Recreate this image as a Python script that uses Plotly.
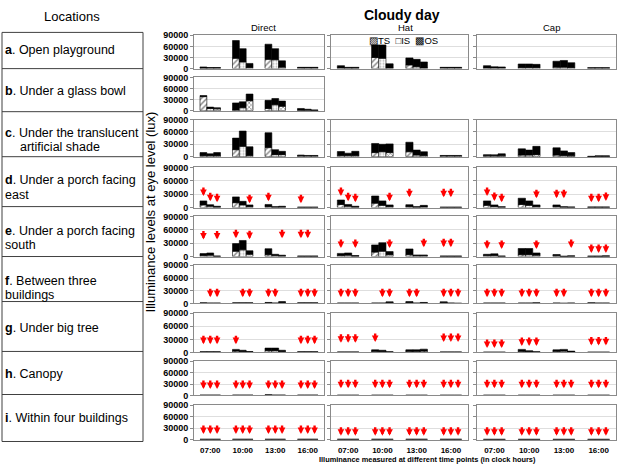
import plotly.graph_objects as go

W, H = 620, 469

TIMES = ["07:00", "10:00", "13:00", "16:00"]
SERIES = ["TS", "IS", "OS"]
COLUMNS = ["Direct", "Hat", "Cap"]
LOCATIONS = [
    ("a", ["Open playground"]),
    ("b", ["Under a glass bowl"]),
    ("c", ["Under the translucent", "artificial shade"]),
    ("d", ["Under a porch facing", "east"]),
    ("e", ["Under a porch facing", "south"]),
    ("f", ["Between three", "buildings"]),
    ("g", ["Under big tree"]),
    ("h", ["Canopy"]),
    ("i", ["Within four buildings"]),
]
Y_TICKS = [0, 30000, 60000, 90000]

# Values per time point: [TS, IS, OS]  (TOT = bar total, PAT = patterned lower part)
A_DIRECT_TOT = [[4500, 3000, 3000], [76000, 54000, 14000], [66000, 54000, 21000], [3500, 3500, 3500]]
A_DIRECT_PAT = [[1500, 1500, 1500], [28000, 18000, 3000], [25000, 24000, 4000], [2000, 2000, 2000]]
A_HAT_TOT = [[8000, 3500, 3500], [64000, 64000, 13000], [29000, 25000, 18000], [3500, 3500, 3500]]
A_HAT_PAT = [[2000, 1500, 1500], [30000, 28000, 2000], [10000, 5000, 2000], [2000, 2000, 2000]]
A_CAP_TOT = [[8000, 5000, 4500], [12500, 12500, 11500], [20000, 22000, 16000], [2500, 2500, 2500]]
A_CAP_PAT = [[2000, 2000, 2000], [3000, 3000, 3000], [4000, 4000, 3000], [1500, 1500, 1500]]

B_DIRECT_TOT = [[41000, 9700, 8000], [21000, 24000, 45000], [28000, 33000, 26000], [6000, 4000, 2000]]
B_DIRECT_PAT = [[38000, 6000, 5000], [2000, 8000, 27000], [6000, 16000, 12000], [1500, 1500, 1000]]

C_DIRECT_TOT = [[10000, 7000, 10000], [45000, 62000, 24000], [58000, 17000, 13000], [4000, 3000, 3000]]
C_DIRECT_PAT = [[2500, 2500, 2500], [17000, 25000, 3000], [22000, 5000, 5000], [2000, 2000, 2000]]
C_HAT_TOT = [[12500, 8500, 13000], [32000, 30000, 31000], [35000, 16000, 12000], [3000, 3000, 3000]]
C_HAT_PAT = [[3000, 3000, 3000], [10000, 12000, 10000], [12000, 4000, 3000], [2000, 2000, 2000]]
C_CAP_TOT = [[5000, 4500, 7000], [19000, 16000, 25000], [21500, 14000, 10000], [1000, 2000, 2000]]
C_CAP_PAT = [[2000, 2000, 2000], [4000, 4000, 5000], [4000, 3000, 2000], [500, 1000, 1000]]

D_DIRECT_TOT = [[15000, 6500, 3000], [24000, 14000, 6000], [7000, 2000, 3000], [1000, 1000, 1000]]
D_DIRECT_PAT = [[6000, 3000, 1000], [11000, 6000, 2000], [2000, 1000, 1000], [500, 500, 500]]
D_HAT_TOT = [[17000, 7000, 3000], [26000, 15000, 6000], [6500, 2000, 5000], [1000, 1000, 1000]]
D_HAT_PAT = [[7000, 3000, 1000], [10000, 5000, 2000], [2000, 1000, 1500], [500, 500, 500]]
D_CAP_TOT = [[15000, 6000, 2000], [21000, 15000, 6000], [6000, 2000, 1500], [1500, 1500, 1500]]
D_CAP_PAT = [[5000, 2500, 800], [7000, 5000, 2000], [2000, 800, 600], [600, 600, 600]]

E_DIRECT_TOT = [[6500, 8000, 1000], [29000, 36000, 13000], [17500, 5000, 3000], [1000, 1000, 1000]]
E_DIRECT_PAT = [[2500, 3000, 500], [12000, 15000, 5000], [4000, 2000, 1000], [500, 500, 500]]
E_HAT_TOT = [[7000, 8000, 2000], [26000, 31000, 11000], [17000, 3500, 3500], [1000, 1000, 1000]]
E_HAT_PAT = [[2500, 3000, 800], [10000, 12000, 4000], [4000, 1500, 1500], [500, 500, 500]]
E_CAP_TOT = [[5000, 6000, 1000], [18000, 18000, 8000], [4500, 500, 1500], [1000, 1000, 1500]]
E_CAP_PAT = [[2000, 2000, 500], [4000, 4000, 3000], [1500, 300, 600], [400, 400, 600]]

F_DIRECT_TOT = [[1500, 1000, 1000], [1500, 1500, 1500], [2500, 1000, 4500], [1500, 1500, 1500]]
F_DIRECT_PAT = [[700, 500, 500], [700, 700, 700], [1000, 500, 2000], [700, 700, 700]]
F_HAT_TOT = [[1000, 1000, 1000], [1000, 1000, 4000], [4500, 1000, 2500], [4000, 1000, 500]]
F_HAT_PAT = [[500, 500, 500], [500, 500, 1500], [2000, 500, 1000], [1500, 500, 300]]
F_CAP_TOT = [[1000, 1000, 1000], [1000, 1000, 1500], [1000, 500, 1000], [1500, 1000, 1000]]
F_CAP_PAT = [[500, 500, 500], [500, 500, 700], [500, 300, 500], [700, 500, 500]]

G_DIRECT_TOT = [[1500, 1500, 1500], [7000, 5000, 2000], [10000, 10000, 5000], [1500, 1500, 1500]]
G_DIRECT_PAT = [[700, 700, 700], [3000, 2000, 800], [4000, 4000, 2000], [700, 700, 700]]
G_HAT_TOT = [[1000, 1000, 1000], [6000, 5000, 1500], [6000, 6000, 7500], [1000, 1000, 1000]]
G_HAT_PAT = [[500, 500, 500], [2500, 2000, 700], [2500, 2500, 3000], [500, 500, 500]]
G_CAP_TOT = [[500, 500, 500], [7000, 4000, 1500], [6000, 7000, 3000], [500, 500, 500]]
G_CAP_PAT = [[300, 300, 300], [2500, 1500, 700], [2500, 3000, 1200], [300, 300, 300]]

H_DIRECT_TOT = [[1000, 1000, 1000], [1000, 1000, 1000], [2000, 1000, 1000], [1000, 1000, 1000]]
H_DIRECT_PAT = [[500, 500, 500], [500, 500, 500], [800, 500, 500], [500, 500, 500]]
H_HAT_TOT = [[800, 800, 800], [800, 800, 800], [800, 800, 800], [800, 800, 800]]
H_HAT_PAT = [[400, 400, 400], [400, 400, 400], [400, 400, 400], [400, 400, 400]]
H_CAP_TOT = [[800, 800, 800], [800, 800, 800], [800, 800, 800], [800, 800, 800]]
H_CAP_PAT = [[400, 400, 400], [400, 400, 400], [400, 400, 400], [400, 400, 400]]

I_DIRECT_TOT = [[800, 800, 800], [800, 800, 800], [800, 800, 800], [800, 800, 800]]
I_DIRECT_PAT = [[400, 400, 400], [400, 400, 400], [400, 400, 400], [400, 400, 400]]
I_HAT_TOT = [[800, 800, 800], [800, 800, 800], [800, 800, 800], [800, 800, 800]]
I_HAT_PAT = [[400, 400, 400], [400, 400, 400], [400, 400, 400], [400, 400, 400]]
I_CAP_TOT = [[600, 600, 600], [600, 600, 600], [600, 600, 600], [600, 600, 600]]
I_CAP_PAT = [[300, 300, 300], [300, 300, 300], [300, 300, 300], [300, 300, 300]]

# Red arrows: (time index, series index, arrow tip value in lux)
D_DIRECT_ARROWS = [(0, 0, 26000), (0, 1, 14000), (0, 2, 12000), (1, 2, 10000), (2, 0, 14000), (3, 0, 10000)]
D_HAT_ARROWS = [(0, 0, 26000), (0, 1, 14000), (0, 2, 12000), (1, 2, 14000), (2, 0, 23000), (3, 0, 23000), (3, 1, 23000)]
D_CAP_ARROWS = [(0, 0, 26000), (0, 1, 15000), (0, 2, 12000), (1, 2, 21000), (2, 0, 21000), (2, 1, 21000),
                (3, 0, 12000), (3, 1, 12000), (3, 2, 15000)]
E_DIRECT_ARROWS = [(0, 0, 38000), (0, 2, 38000), (1, 0, 41000), (1, 2, 39000), (2, 2, 41000), (3, 0, 41000), (3, 1, 41000)]
E_HAT_ARROWS = [(0, 0, 19000), (0, 2, 19000), (1, 2, 19000), (2, 2, 21000), (3, 0, 21000), (3, 1, 21000)]
E_CAP_ARROWS = [(0, 0, 17000), (0, 2, 17000), (1, 2, 17000), (2, 2, 19000), (3, 0, 8000), (3, 1, 8000), (3, 2, 8000)]
F_DIRECT_ARROWS = [(0, 1, 15000), (0, 2, 15000), (1, 1, 15000), (1, 2, 15000), (2, 0, 15000), (2, 1, 15000),
                   (3, 0, 15000), (3, 1, 15000), (3, 2, 15000)]
F_HAT_ARROWS = [(0, 0, 15000), (0, 1, 15000), (0, 2, 15000), (1, 1, 15000), (1, 2, 15000), (2, 0, 15000),
                (2, 1, 15000), (3, 0, 15000), (3, 1, 15000), (3, 2, 15000)]
F_CAP_ARROWS = [(0, 0, 15000), (0, 1, 15000), (0, 2, 15000), (1, 0, 15000), (1, 1, 15000), (1, 2, 15000),
                (2, 0, 15000), (2, 1, 15000), (3, 0, 15000), (3, 1, 15000), (3, 2, 15000)]
G_DIRECT_ARROWS = [(0, 0, 19000), (0, 1, 19000), (0, 2, 19000), (1, 0, 19000), (3, 0, 19000), (3, 1, 19000), (3, 2, 19000)]
G_HAT_ARROWS = [(0, 0, 22000), (0, 1, 22000), (0, 2, 22000), (1, 0, 24000), (3, 0, 24000), (3, 1, 24000), (3, 2, 24000)]
G_CAP_ARROWS = [(0, 0, 10000), (0, 1, 10000), (0, 2, 10000), (1, 0, 15000), (1, 1, 15000), (1, 2, 15000),
                (3, 0, 16000), (3, 1, 16000), (3, 2, 16000)]
H_DIRECT_ARROWS = [(t, s, 17000) for t in range(4) for s in range(3)]
H_HAT_ARROWS = [(t, s, 19000) for t in range(4) for s in range(3)]
H_CAP_ARROWS = [(t, s, 19000) for t in range(4) for s in range(3)]
I_DIRECT_ARROWS = [(t, s, 14500) for t in range(4) for s in range(3)]
I_HAT_ARROWS = [(t, s, 10000) for t in range(4) for s in range(3)]
I_CAP_ARROWS = [(t, s, 10000) for t in range(4) for s in range(3)]

PANELS = {
    (0, 0): (A_DIRECT_TOT, A_DIRECT_PAT, []), (0, 1): (A_HAT_TOT, A_HAT_PAT, []), (0, 2): (A_CAP_TOT, A_CAP_PAT, []),
    (1, 0): (B_DIRECT_TOT, B_DIRECT_PAT, []),
    (2, 0): (C_DIRECT_TOT, C_DIRECT_PAT, []), (2, 1): (C_HAT_TOT, C_HAT_PAT, []), (2, 2): (C_CAP_TOT, C_CAP_PAT, []),
    (3, 0): (D_DIRECT_TOT, D_DIRECT_PAT, D_DIRECT_ARROWS), (3, 1): (D_HAT_TOT, D_HAT_PAT, D_HAT_ARROWS),
    (3, 2): (D_CAP_TOT, D_CAP_PAT, D_CAP_ARROWS),
    (4, 0): (E_DIRECT_TOT, E_DIRECT_PAT, E_DIRECT_ARROWS), (4, 1): (E_HAT_TOT, E_HAT_PAT, E_HAT_ARROWS),
    (4, 2): (E_CAP_TOT, E_CAP_PAT, E_CAP_ARROWS),
    (5, 0): (F_DIRECT_TOT, F_DIRECT_PAT, F_DIRECT_ARROWS), (5, 1): (F_HAT_TOT, F_HAT_PAT, F_HAT_ARROWS),
    (5, 2): (F_CAP_TOT, F_CAP_PAT, F_CAP_ARROWS),
    (6, 0): (G_DIRECT_TOT, G_DIRECT_PAT, G_DIRECT_ARROWS), (6, 1): (G_HAT_TOT, G_HAT_PAT, G_HAT_ARROWS),
    (6, 2): (G_CAP_TOT, G_CAP_PAT, G_CAP_ARROWS),
    (7, 0): (H_DIRECT_TOT, H_DIRECT_PAT, H_DIRECT_ARROWS), (7, 1): (H_HAT_TOT, H_HAT_PAT, H_HAT_ARROWS),
    (7, 2): (H_CAP_TOT, H_CAP_PAT, H_CAP_ARROWS),
    (8, 0): (I_DIRECT_TOT, I_DIRECT_PAT, I_DIRECT_ARROWS), (8, 1): (I_HAT_TOT, I_HAT_PAT, I_HAT_ARROWS),
    (8, 2): (I_CAP_TOT, I_CAP_PAT, I_CAP_ARROWS),
}

# ---------------- layout geometry (pixels) ----------------
COL_PX = [(194, 324), (331, 468), (477, 616)]
ROW_PX = [(31, 65), (74, 108), (117, 155), (166, 207), (216, 257), (266, 305), (315, 355), (364, 399), (409, 444)]
TABLE_X = (2, 143)
TABLE_LINES = [28, 65, 109, 155, 206, 257, 303, 354, 398, 446]

BARGAP = 0.37
PATTERNS = {
    "TS": dict(shape="/", fgcolor="#000000", bgcolor="#ffffff", size=4, solidity=0.35),
    "IS": dict(shape=".", fgcolor="#707070", bgcolor="#ffffff", size=3, solidity=0.35),
    "OS": dict(shape="x", fgcolor="#000000", bgcolor="#ffffff", size=3, solidity=0.4),
}
FONT = "Arial, Liberation Sans, sans-serif"

def px_x(v):
    return v / W

def px_y(v):
    return 1 - v / H

fig = go.Figure()
annotations = []
shapes = []
n = 0
for (r, c), (tot, pat, arrows) in PANELS.items():
    n += 1
    xa = "x" if n == 1 else f"x{n}"
    ya = "y" if n == 1 else f"y{n}"
    for s, name in enumerate(SERIES):
        low = [pat[t][s] for t in range(len(TIMES))]
        top = [tot[t][s] - pat[t][s] for t in range(len(TIMES))]
        fig.add_trace(go.Bar(
            x=TIMES, y=low, offsetgroup=name, name=name, showlegend=False,
            marker=dict(color="#ffffff", pattern=PATTERNS[name], line=dict(color="#000000", width=0.6)),
            xaxis=xa, yaxis=ya, hoverinfo="skip"))
        fig.add_trace(go.Bar(
            x=TIMES, y=top, base=low, offsetgroup=name, name=name, showlegend=False,
            marker=dict(color="#000000", line=dict(color="#000000", width=0.6)),
            xaxis=xa, yaxis=ya, hoverinfo="skip"))
    w = (1 - BARGAP) / len(SERIES)
    for (t, s, tip) in arrows:
        annotations.append(dict(
            xref=xa, yref=ya, x=t + (s - 1) * w, y=tip, text="", showarrow=True,
            ax=0, ay=-10, arrowhead=2, arrowsize=0.55, arrowwidth=2.4, arrowcolor="#ff0000",
            standoff=0, startstandoff=0))
    x0, x1 = COL_PX[c]
    y0, y1 = ROW_PX[r]
    last = (r == len(ROW_PX) - 1)
    fig.layout[("xaxis" if n == 1 else f"xaxis{n}")] = dict(
        domain=[px_x(x0), px_x(x1)], anchor=ya, type="category",
        categoryorder="array", categoryarray=TIMES,
        showline=True, mirror=True, linecolor="#8a8a8a", linewidth=1,
        showgrid=False, ticks="", showticklabels=last, ticklabelstandoff=3,
        tickfont=dict(family=FONT, size=8, color="#000000", weight="bold"))
    fig.layout[("yaxis" if n == 1 else f"yaxis{n}")] = dict(
        domain=[px_y(y1), px_y(y0)], anchor=xa, range=[0, 90000],
        tickvals=Y_TICKS, ticktext=[str(v) for v in Y_TICKS],
        showgrid=True, gridcolor="#dedede", gridwidth=1, zeroline=False,
        showline=True, mirror=True, linecolor="#8a8a8a", linewidth=1,
        ticks="outside", ticklen=3, tickcolor="#8a8a8a",
        showticklabels=(c == 0),
        tickfont=dict(family=FONT, size=9, color="#000000", weight="bold"))

# ---------------- table of locations ----------------
tx0, tx1 = TABLE_X
shapes.append(dict(type="rect", xref="paper", yref="paper", x0=px_x(tx0), x1=px_x(tx1),
                   y0=px_y(TABLE_LINES[-1]), y1=px_y(TABLE_LINES[0]),
                   line=dict(color="#404040", width=1)))
for ly in TABLE_LINES[1:-1]:
    shapes.append(dict(type="line", xref="paper", yref="paper", x0=px_x(tx0), x1=px_x(tx1),
                       y0=px_y(ly), y1=px_y(ly), line=dict(color="#404040", width=1)))

TEXT_Y = {0: [46], 1: [88], 2: [131, 145], 3: [179, 194], 4: [231, 245], 5: [282, 296],
          6: [330], 7: [377], 8: [422]}
for i, (letter, lines) in enumerate(LOCATIONS):
    for j, line in enumerate(lines):
        txt = f"<b>{letter}</b>. {line}" if j == 0 else line
        xpos = 3 if not (i == 2 and j == 1) else 18
        annotations.append(dict(xref="paper", yref="paper", x=px_x(xpos), y=px_y(TEXT_Y[i][j]),
                                text=txt, showarrow=False, xanchor="left", yanchor="middle",
                                font=dict(family=FONT, size=12.5, color="#000000")))

annotations.append(dict(xref="paper", yref="paper", x=px_x(72), y=px_y(12), text="Locations",
                        showarrow=False, xanchor="center", yanchor="middle",
                        font=dict(family=FONT, size=13, color="#000000")))
annotations.append(dict(xref="paper", yref="paper", x=px_x(402), y=px_y(10), text="<b>Cloudy day</b>",
                        showarrow=False, xanchor="center", yanchor="middle",
                        font=dict(family=FONT, size=14, color="#000000")))
for cx, name in zip([263, 405, 551], COLUMNS):
    annotations.append(dict(xref="paper", yref="paper", x=px_x(cx), y=px_y(23), text=name,
                            showarrow=False, xanchor="center", yanchor="middle",
                            font=dict(family=FONT, size=9.5, color="#000000")))
annotations.append(dict(xref="paper", yref="paper", x=px_x(150), y=px_y(212),
                        text="Illuminance levels at eye level (lux)", textangle=-90,
                        showarrow=False, xanchor="center", yanchor="middle",
                        font=dict(family=FONT, size=13, color="#000000")))
annotations.append(dict(xref="paper", yref="paper", x=px_x(427), y=px_y(464),
                        text="<b>Illuminance measured at different time points (in clock hours)</b>",
                        showarrow=False, xanchor="center", yanchor="middle",
                        font=dict(family=FONT, size=7.4, color="#000000")))
# legend (inside Hat panel of row a)
annotations.append(dict(xref="paper", yref="paper", x=px_x(403), y=px_y(36),
                        text="▨TS  □IS  ▩OS", showarrow=False, xanchor="center", yanchor="middle",
                        font=dict(family=FONT, size=9.5, color="#000000")))

fig.update_layout(
    width=W, height=H, margin=dict(l=0, r=0, t=0, b=0),
    paper_bgcolor="#ffffff", plot_bgcolor="#ffffff",
    barmode="group", bargap=BARGAP, bargroupgap=0,
    showlegend=False, annotations=annotations, shapes=shapes,
    font=dict(family=FONT, color="#000000"),
)
fig.write_html("out.html", config={"displayModeBar": False},
               post_script="document.body.style.margin='0px';")
